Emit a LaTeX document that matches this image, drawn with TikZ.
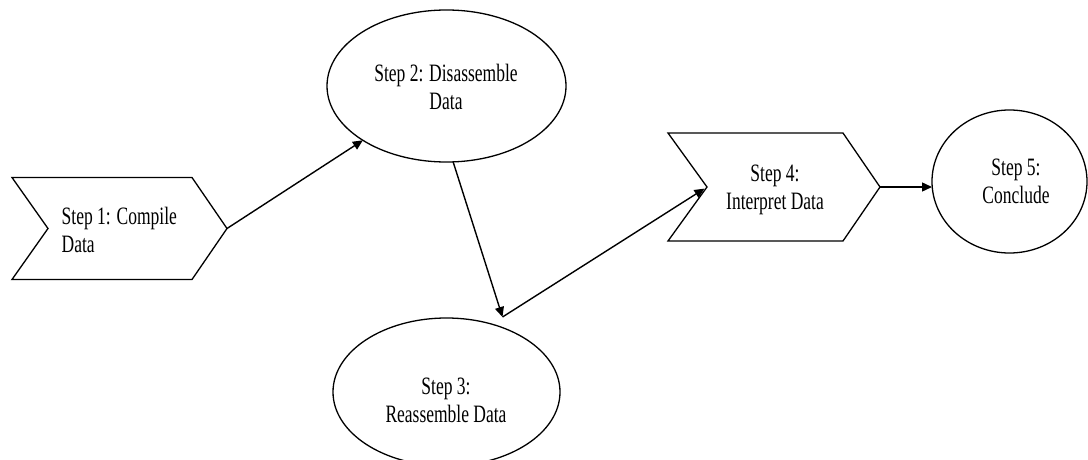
\documentclass[tikz,border=0pt]{standalone}
\usepackage{fontspec}
\setmainfont[FakeStretch=0.7]{Liberation Serif}
\usetikzlibrary{shapes.geometric,arrows.meta,calc}
\begin{document}
\begin{tikzpicture}[x=1pt,y=-1pt,
  shapeline/.style={draw=black,line width=1.3pt,line join=miter},
  body/.style={inner sep=0pt,outer sep=0pt},
  oval/.style={shapeline,ellipse,inner sep=0pt,outer sep=0pt},
  lbl/.style={inner sep=0pt,font=\fontsize{25}{28}\selectfont,text=black},
  conn/.style={draw=black,line width=1.4pt,-{Triangle[length=10pt,width=9pt]}},
]
\useasboundingbox (0,0) rectangle (1088,460);
\clip (0,0) rectangle (1088,460);
\fill[white] (0,0) rectangle (1088,460);

% Step 1 chevron
\node[body,minimum width=180pt,minimum height=102pt] (c1) at (102,228.5) {};
\coordinate (c1tip) at ($(c1.east)+(35,0)$);
\coordinate (c1notch) at ($(c1.west)+(36,0)$);
\draw[shapeline] (c1.north west) -- (c1.north east) -- (c1tip) -- (c1.south east) -- (c1.south west) -- (c1notch) -- cycle;
\node[lbl,anchor=west,align=left] (t1) at (61.5,229.8) {Step 1: Compile\\Data};

% Step 2 ellipse
\node[oval,minimum width=239pt,minimum height=152pt] (s2) at (446.5,86) {};
\node[lbl,align=center] (t2) at (446,86.5) {Step 2: Disassemble\\Data};

% Step 3 ellipse
\node[oval,minimum width=227pt,minimum height=148pt] (s3) at (446.5,392) {};
\node[lbl,align=center] (t3) at (446,400) {Step 3:\\Reassemble Data};
\coordinate (j3) at (502.5,317);

% Step 4 chevron
\node[body,minimum width=175pt,minimum height=108pt] (c4) at (755.5,187) {};
\coordinate (c4tip) at ($(c4.east)+(37,0)$);
\coordinate (c4notch) at ($(c4.west)+(39,0)$);
\draw[shapeline] (c4.north west) -- (c4.north east) -- (c4tip) -- (c4.south east) -- (c4.south west) -- (c4notch) -- cycle;
\node[lbl,align=center] (t4) at (775,190) {Step 4:\\Interpret Data};

% Step 5 circle
\node[oval,minimum width=155pt,minimum height=143pt] (s5) at (1009.5,181.5) {};
\node[lbl,align=center] (t5) at (1016,181) {Step 5:\\Conclude};

% connectors
\draw[conn] (c1tip) -- (s2);
\draw[conn] (s2.-85) -- (j3);
\draw[conn,shorten >=3pt] (j3) -- (c4notch);
\draw[conn] (c4tip) -- (c4tip -| s5.west);
\end{tikzpicture}
\end{document}
